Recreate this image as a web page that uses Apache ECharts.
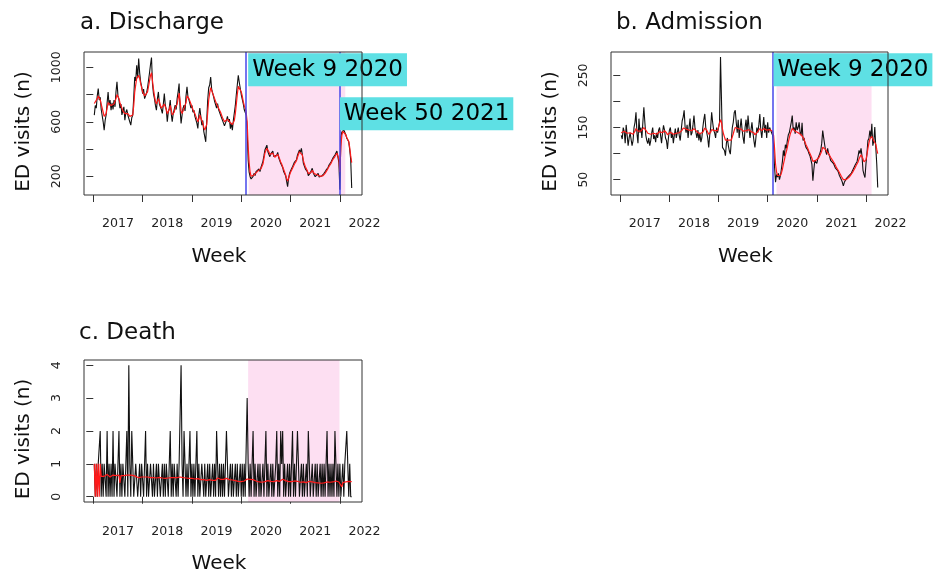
<!DOCTYPE html>
<html><head><meta charset="utf-8">
<script src="https://cdn.jsdelivr.net/npm/echarts@6/dist/echarts.min.js"></script>
<style>html,body{margin:0;padding:0;background:#fff}#c{width:943px;height:575px}</style>
</head><body><div id="c"></div><script>
// ---- data (weekly series, week index 1..262) ----
const yearLabels = ['2017','2018','2019','2020','2021','2022'];
const xTickWeeks = [0,50,100,150,200,250];
const xLabelWeeks = [25,75,125,175,225,275];

const dischargeObs = [
649,720,700,790,844,760,780,690,700,600,
539,610,650,740,819,720,760,685,740,690,
760,710,820,893,790,760,700,730,650,660,
710,612,670,690,650,660,600,576,630,650,
780,929,900,1015,920,1064,960,893,860,807,
840,770,759,810,850,905,960,1020,1071,880,
807,770,720,685,770,819,730,710,690,661,
730,807,720,690,600,670,700,759,660,600,
660,690,722,690,770,820,881,690,588,650,
700,722,680,790,856,780,760,759,700,720,
670,685,640,630,590,551,650,700,640,576,
610,530,520,453,610,760,850,870,929,840,
810,783,750,760,700,734,690,690,650,649,
610,620,570,563,610,640,600,620,550,590,
539,610,612,720,800,870,941,890,881,800,
790,734,690,700,649,539,320,230,197,180,
173,200,222,205,235,240,230,255,235,265,
271,310,350,393,395,429,380,375,344,365,
365,385,345,332,350,355,375,335,315,295,
283,265,235,222,205,165,124,185,222,235,
255,271,275,305,305,320,355,365,393,375,
405,355,295,285,255,247,235,205,197,225,
235,259,225,215,197,210,210,222,195,200,
185,205,205,222,225,245,247,265,283,285,
305,315,335,335,356,365,385,393,300,102,
490,525,539,540,527,505,480,470,453,393,320,115];
const dischargeFit = [
734,730,740,770,790,780,760,730,700,670,
640,640,660,700,740,740,730,720,720,720,
730,740,770,800,790,770,740,720,700,680,
670,660,660,670,660,650,640,630,630,650,
720,820,870,920,930,940,920,880,850,820,
810,790,780,790,820,860,900,940,960,900,
840,790,750,730,750,770,750,720,700,690,
700,730,720,690,660,660,690,720,690,650,
650,670,700,700,730,770,810,750,680,660,
680,700,700,740,790,790,770,750,730,710,
690,680,660,640,620,600,620,650,640,610,
590,560,540,530,580,670,760,810,850,840,
810,790,770,750,730,720,700,690,670,650,
630,620,600,590,600,620,610,600,590,590,
580,590,610,660,730,800,860,870,860,820,
790,750,720,700,670,600,420,300,230,200,
190,195,210,215,225,235,240,245,245,255,
265,290,330,370,390,405,395,380,360,360,
365,370,355,340,345,350,360,345,325,305,
290,270,250,230,210,185,165,185,210,230,
245,260,270,290,300,315,340,360,380,375,
380,355,315,290,270,255,240,220,210,220,
230,245,235,220,210,210,212,215,205,200,
195,200,205,215,222,235,245,258,272,280,
295,310,325,332,345,355,370,380,330,230,
420,500,530,535,525,505,485,470,455,410,350,300];

const admissionObs = [
135,128,150,142,120,155,135,115,130,140,
142,115,125,150,160,179,138,120,167,140,
150,130,160,189,160,135,125,119,130,115,
125,140,150,128,135,122,140,130,145,150,
135,120,140,154,145,130,125,109,130,145,
150,130,140,120,135,148,130,140,150,135,
125,145,163,170,183,150,140,155,130,150,
167,135,140,155,173,150,140,130,145,125,
140,122,130,150,165,176,150,140,130,112,
135,150,179,160,145,140,130,150,140,150,
160,285,202,112,115,106,96,120,130,115,
105,99,125,150,160,179,183,160,140,165,
130,150,167,145,130,119,150,165,140,173,
150,130,145,160,140,125,112,130,150,140,
155,176,145,130,150,170,140,155,130,160,
140,150,145,140,135,117,74,45,60,55,
62,50,58,71,85,106,95,117,110,125,
136,140,150,160,173,145,150,138,160,145,
150,160,140,135,159,125,130,118,112,110,
106,100,96,94,80,48,70,87,85,81,
90,95,100,106,120,144,130,117,105,98,
110,100,95,87,90,85,81,78,72,70,
68,64,58,54,50,45,38,45,48,52,
50,55,58,60,62,66,70,72,78,81,
85,95,106,100,110,95,68,60,54,80,
100,125,129,144,130,157,115,125,151,112,80,35];
const admissionFit = [
140,138,142,143,140,141,139,137,138,140,
141,138,137,139,143,148,146,143,145,144,
143,142,145,150,148,145,142,139,138,136,
137,138,140,139,138,136,137,138,140,142,
141,139,140,143,144,142,140,136,137,139,
141,140,139,137,138,140,139,140,141,140,
139,141,145,149,152,150,147,146,144,145,
147,145,144,146,148,147,145,142,141,139,
138,137,138,141,145,149,147,145,141,137,
138,141,146,148,146,144,142,143,144,145,
147,165,160,147,138,132,126,125,127,126,
124,123,126,132,138,145,150,150,147,148,
145,145,147,146,143,140,141,144,143,146,
146,143,142,144,143,140,136,137,140,141,
143,148,147,144,145,148,146,147,145,146,
145,146,146,145,143,135,110,80,65,58,
57,56,58,63,70,80,88,97,104,112,
122,130,138,143,148,147,146,143,142,140,
140,141,139,136,135,131,127,122,117,113,
109,104,100,96,91,85,84,86,87,88,
89,92,96,100,105,112,114,112,108,104,
102,100,97,93,90,87,84,81,77,73,
70,67,64,60,56,53,50,49,49,50,
51,53,55,58,60,63,66,69,73,77,
80,84,90,94,98,97,90,84,82,88,
98,110,120,128,130,133,128,125,128,118,108,100];

const deathObs = [
1,0,1,0,1,1,2,0,1,0,
1,1,0,2,0,1,0,1,0,2,
0,1,1,0,1,2,0,1,0,1,
1,0,1,2,0,4,1,0,2,1,
0,0,1,1,0,0,1,0,1,1,
0,1,2,0,1,0,0,1,1,0,
1,0,0,1,0,1,1,0,0,1,
0,1,0,1,1,0,1,2,0,1,
0,1,1,0,1,0,1,1,4,1,
0,2,1,0,1,0,1,2,0,1,
0,1,0,1,2,0,1,0,0,1,
1,0,1,0,0,1,0,1,0,0,
1,0,1,0,2,2,0,1,0,1,
0,1,0,1,2,2,0,0,1,0,
1,0,0,1,0,1,0,0,1,0,
1,0,1,0,0,3,1,0,1,0,
0,2,0,1,0,0,1,0,1,0,
0,1,0,1,2,0,1,0,0,1,
0,1,0,0,1,2,0,1,0,2,
1,2,0,1,0,0,1,0,1,0,
1,2,0,1,0,0,2,1,0,0,
1,0,1,0,0,1,0,2,1,0,
0,1,0,0,1,0,1,0,0,1,
0,1,0,1,0,1,2,0,1,0,
1,0,1,0,2,1,0,1,0,1,
0,0,1,0,1,1,2,1,0,1,0,0];
const deathFit = [
1,0,1,0,1,0,1,0.62,0.64,0.6,
0.62,0.66,0.62,0.68,0.64,0.62,0.6,0.62,0.58,0.66,
0.64,0.62,0.64,0.6,0.62,0.66,0.42,0.64,0.62,0.62,
0.64,0.62,0.62,0.66,0.62,0.68,0.66,0.64,0.66,0.65,
0.62,0.6,0.62,0.62,0.6,0.58,0.6,0.59,0.6,0.62,
0.6,0.6,0.62,0.6,0.6,0.58,0.57,0.58,0.6,0.58,
0.58,0.56,0.54,0.57,0.56,0.58,0.59,0.57,0.56,0.57,
0.56,0.57,0.56,0.58,0.58,0.57,0.58,0.6,0.58,0.59,
0.57,0.58,0.59,0.57,0.58,0.57,0.58,0.6,0.64,0.62,
0.58,0.6,0.6,0.57,0.57,0.55,0.56,0.58,0.56,0.56,
0.54,0.55,0.54,0.55,0.57,0.55,0.55,0.53,0.52,0.53,
0.54,0.52,0.53,0.52,0.5,0.52,0.51,0.52,0.5,0.48,
0.5,0.49,0.51,0.5,0.54,0.57,0.55,0.55,0.53,0.54,
0.52,0.53,0.52,0.53,0.56,0.58,0.55,0.52,0.52,0.5,
0.51,0.49,0.48,0.49,0.48,0.49,0.47,0.46,0.47,0.46,
0.48,0.47,0.48,0.47,0.46,0.54,0.56,0.53,0.53,0.51,
0.49,0.52,0.5,0.5,0.48,0.46,0.47,0.45,0.46,0.44,
0.44,0.46,0.45,0.46,0.49,0.48,0.49,0.47,0.46,0.47,
0.46,0.47,0.46,0.44,0.46,0.49,0.48,0.49,0.47,0.5,
0.5,0.53,0.51,0.51,0.49,0.47,0.48,0.46,0.47,0.45,
0.46,0.49,0.47,0.48,0.46,0.44,0.47,0.48,0.46,0.44,
0.45,0.44,0.45,0.44,0.42,0.43,0.42,0.46,0.47,0.45,
0.44,0.45,0.44,0.42,0.43,0.42,0.43,0.42,0.4,0.42,
0.41,0.42,0.41,0.42,0.41,0.42,0.45,0.44,0.45,0.44,
0.45,0.44,0.45,0.44,0.47,0.48,0.46,0.47,0.45,0.46,
0.44,0.3,0.43,0.42,0.44,0.45,0.48,0.49,0.47,0.48,0.46,0.46];

// ---- layout / style ----
const FONT = 'DejaVu Sans';
const X_MIN = -9.44, X_MAX = 272.44, X_LABEL_MAX = 300;

const panels = [
  {title:'a. Discharge', tl:80, tt:12, left:84, top:52, width:278, height:143,
   ymin:63, ymax:1112, yTicks:[200,400,600,800,1000], yLabels:[200,600,1000],
   obs:dischargeObs, fit:dischargeFit, shade:[157.5,255.5], lines:[155,250],
   notes:[{week:155, name:'Week 9 2020', pos:[3,2.3]},{week:250, name:'Week 50 2021', pos:[1,46.3]}]},
  {title:'b. Admission', tl:616, tt:12, left:611, top:52, width:277, height:143,
   ymin:20.6, ymax:294.8, yTicks:[50,100,150,200,250], yLabels:[50,150,250],
   obs:admissionObs, fit:admissionFit, shade:[159,255.7], lines:[155],
   notes:[{week:155, name:'Week 9 2020', pos:[2,2.3]}]},
  {title:'c. Death', tl:79, tt:322, left:84, top:360, width:278, height:143,
   ymin:-0.16, ymax:4.16, yTicks:[0,1,2,3,4], yLabels:[0,1,2,3,4],
   obs:deathObs, fit:deathFit, shade:[157,249.6], lines:[], notes:[]}
];

const option = {
  animation:false,
  textStyle:{fontFamily:FONT},
  title:[], grid:[], xAxis:[], yAxis:[], series:[]
};

panels.forEach((p, k) => {
  const gMain = option.grid.length;
  option.title.push({text:p.title, left:p.tl, top:p.tt, padding:0,
    textStyle:{fontFamily:FONT, fontSize:23, fontWeight:'normal', color:'#111'}});
  option.grid.push({left:p.left, top:p.top, width:p.width, height:p.height, show:true,
    borderColor:'#333', borderWidth:1, backgroundColor:'transparent', z:10, containLabel:false});
  const labW = p.width * (X_LABEL_MAX - X_MIN) / (X_MAX - X_MIN);
  option.grid.push({left:p.left, top:p.top, width:labW, height:p.height, show:false});

  const xMain = option.xAxis.length;
  option.xAxis.push({type:'value', gridIndex:gMain, min:X_MIN, max:X_MAX,
    axisLine:{show:false}, splitLine:{show:false},
    axisTick:{show:true, length:7, customValues:xTickWeeks, lineStyle:{color:'#333'}},
    axisLabel:{show:false},
    name:'Week', nameLocation:'middle', nameGap:52,
    nameTextStyle:{fontFamily:FONT, fontSize:20, color:'#111', padding:[0,8,0,0]}});
  option.xAxis.push({type:'value', gridIndex:gMain+1, min:X_MIN, max:X_LABEL_MAX,
    axisLine:{show:false}, axisTick:{show:false}, splitLine:{show:false},
    axisLabel:{show:true, customValues:xLabelWeeks, margin:22, fontSize:12.6, color:'#222',
      formatter:(v) => yearLabels[xLabelWeeks.indexOf(v)]}});

  const yMain = option.yAxis.length;
  option.yAxis.push({type:'value', gridIndex:gMain, min:p.ymin, max:p.ymax,
    axisLine:{show:false}, splitLine:{show:false},
    axisTick:{show:true, length:7, customValues:p.yTicks, lineStyle:{color:'#333'}},
    axisLabel:{show:true, customValues:p.yLabels, rotate:90, margin:21, fontSize:12.5, color:'#222',
      formatter:(v) => String(v)},
    name:'ED visits (n)', nameLocation:'middle', nameGap:50,
    nameTextStyle:{fontFamily:FONT, fontSize:20, color:'#111', padding:[0,16,0,0]}});
  option.yAxis.push({type:'value', gridIndex:gMain+1, min:0, max:1, show:false});

  // shaded period
  option.series.push({type:'line', xAxisIndex:xMain, yAxisIndex:yMain, data:[], z:1, silent:true,
    markArea:{silent:true, itemStyle:{color:'#fddff2'}, data:[[{xAxis:p.shade[0]},{xAxis:p.shade[1]}]]}});
  // observed
  option.series.push({type:'line', xAxisIndex:xMain, yAxisIndex:yMain, z:2, silent:true,
    showSymbol:false, symbol:'none', sampling:null,
    lineStyle:{color:'#111', width:1.1}, data:p.obs.map((v,i)=>[i+1,v])});
  // fitted
  option.series.push({type:'line', xAxisIndex:xMain, yAxisIndex:yMain, z:3, silent:true,
    showSymbol:false, symbol:'none',
    lineStyle:{color:'#ff1a1a', width:1.2}, data:p.fit.map((v,i)=>[i+1,v])});
  // reference lines + annotations
  option.series.push({type:'line', xAxisIndex:xMain, yAxisIndex:yMain, data:[], z:5, silent:true,
    markLine:{silent:true, symbol:['none','none'], label:{show:false},
      lineStyle:{color:'#4747ea', width:1.5, type:'solid'},
      data:p.lines.map(w=>({xAxis:w}))},
    markPoint:{silent:true, symbol:'rect', symbolSize:2, itemStyle:{color:'rgba(0,0,0,0)'},
      data:p.notes.map(n=>({name:n.name, coord:[n.week, p.ymax],
        label:{show:true, formatter:'{b}', position:n.pos, fontFamily:FONT, fontSize:23,
          lineHeight:27, color:'#000', backgroundColor:'#5ee0e4', padding:[3,4,3,4]}}))}});
});

const chart = echarts.init(document.getElementById('c'), null, {renderer:'canvas'});
chart.setOption(option);
</script></body></html>
